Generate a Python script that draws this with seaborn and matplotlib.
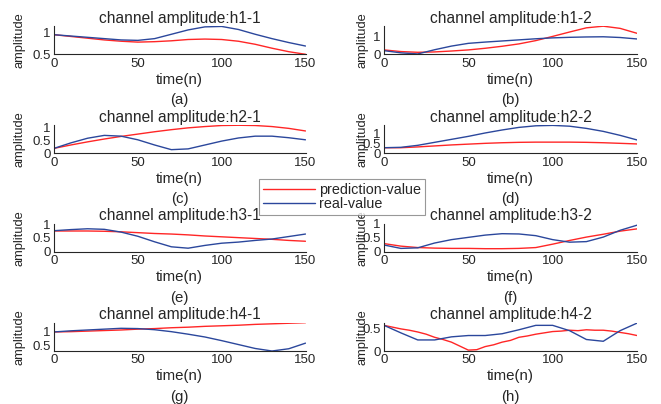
import matplotlib
matplotlib.use("Agg")
import matplotlib.pyplot as plt
from matplotlib.ticker import FuncFormatter
import numpy as np
import pandas as pd
import seaborn as sns

# ---------------- data ----------------
n10 = [0, 10, 20, 30, 40, 50, 60, 70, 80, 90, 100, 110, 120, 130, 140, 150]
n5 = list(range(0, 155, 5))

h11_pred = [0.95, 0.91, 0.87, 0.83, 0.80, 0.78, 0.79, 0.81, 0.84, 0.85, 0.84, 0.80, 0.73, 0.64, 0.56, 0.50]
h11_real = [0.95, 0.92, 0.89, 0.86, 0.83, 0.82, 0.86, 0.96, 1.06, 1.13, 1.14, 1.07, 0.96, 0.86, 0.77, 0.69]

h12_pred = [0.24, 0.15, 0.11, 0.13, 0.18, 0.24, 0.33, 0.44, 0.57, 0.75, 0.98, 1.22, 1.45, 1.54, 1.42, 1.15]
h12_real = [0.20, 0.08, 0.02, 0.25, 0.45, 0.60, 0.67, 0.73, 0.79, 0.85, 0.90, 0.93, 0.95, 0.96, 0.92, 0.84]

h21_pred = [0.19, 0.32, 0.44, 0.55, 0.65, 0.74, 0.83, 0.91, 0.98, 1.03, 1.07, 1.08, 1.07, 1.03, 0.96, 0.86]
h21_real = [0.19, 0.40, 0.58, 0.69, 0.66, 0.52, 0.32, 0.14, 0.17, 0.32, 0.47, 0.59, 0.66, 0.66, 0.60, 0.52]

h22_pred = [0.28, 0.28, 0.32, 0.37, 0.42, 0.46, 0.50, 0.53, 0.55, 0.56, 0.56, 0.56, 0.55, 0.53, 0.50, 0.47]
h22_real = [0.28, 0.30, 0.40, 0.55, 0.70, 0.85, 1.02, 1.17, 1.30, 1.38, 1.40, 1.36, 1.25, 1.10, 0.90, 0.67]

h31_pred = [0.75, 0.75, 0.75, 0.74, 0.72, 0.69, 0.66, 0.64, 0.61, 0.57, 0.54, 0.51, 0.48, 0.45, 0.41, 0.38]
h31_real = [0.76, 0.80, 0.83, 0.81, 0.71, 0.56, 0.36, 0.18, 0.13, 0.23, 0.31, 0.35, 0.41, 0.46, 0.55, 0.64]

h32_pred = [0.29, 0.20, 0.15, 0.13, 0.12, 0.12, 0.11, 0.11, 0.12, 0.15, 0.27, 0.40, 0.52, 0.62, 0.73, 0.81]
h32_real = [0.24, 0.12, 0.14, 0.31, 0.43, 0.51, 0.59, 0.64, 0.63, 0.57, 0.43, 0.34, 0.36, 0.52, 0.76, 0.94]

h41_pred = [1.00, 1.01, 1.03, 1.05, 1.07, 1.10, 1.12, 1.15, 1.17, 1.20, 1.22, 1.24, 1.27, 1.29, 1.31, 1.33]
h41_real = [1.00, 1.04, 1.07, 1.10, 1.13, 1.12, 1.08, 1.01, 0.92, 0.82, 0.69, 0.55, 0.41, 0.32, 0.40, 0.60]

h42_pred = [0.58, 0.54, 0.50, 0.47, 0.43, 0.38, 0.31, 0.26, 0.20, 0.11, 0.02, 0.03, 0.10, 0.14, 0.20, 0.24,
            0.31, 0.34, 0.38, 0.41, 0.44, 0.45, 0.47, 0.46, 0.48, 0.47, 0.47, 0.45, 0.42, 0.39, 0.35]
h42_real = [0.58, 0.41, 0.25, 0.25, 0.32, 0.35, 0.35, 0.39, 0.48, 0.58, 0.58, 0.46, 0.26, 0.22, 0.46, 0.63]

titles = ["channel amplitude:h1-1", "channel amplitude:h1-2",
          "channel amplitude:h2-1", "channel amplitude:h2-2",
          "channel amplitude:h3-1", "channel amplitude:h3-2",
          "channel amplitude:h4-1", "channel amplitude:h4-2"]
letters = ["(a)", "(b)", "(c)", "(d)", "(e)", "(f)", "(g)", "(h)"]
x_ticks = [0, 50, 100, 150]
series = [
    (n10, h11_pred, n10, h11_real, (0.5, 1.15), [0.5, 1]),
    (n10, h12_pred, n10, h12_real, (0.0, 1.55), [0, 1]),
    (n10, h21_pred, n10, h21_real, (0.0, 1.09), [0, 0.5, 1]),
    (n10, h22_pred, n10, h22_real, (0.0, 1.42), [0, 0.5, 1]),
    (n10, h31_pred, n10, h31_real, (0.0, 1.02), [0, 0.5, 1]),
    (n10, h32_pred, n10, h32_real, (0.0, 1.00), [0, 0.5, 1]),
    (n10, h41_pred, n10, h41_real, (0.32, 1.33), [0.5, 1]),
    (n5, h42_pred, n10, h42_real, (0.0, 0.64), [0, 0.5]),
]

# ---------------- style ----------------
sns.set_style("white")
plt.rcParams["font.family"] = ["Liberation Sans", "DejaVu Sans"]
TXT = "#262626"
RED = "#ff2626"
BLUE = "#2b479c"

W, H = 661, 404
fig = plt.figure(figsize=(W / 100, H / 100), dpi=100)

col_left = [54, 384]
col_width = [251.5, 253]
row_top = [26, 125, 223.5, 322.7]
ax_h = 28.3
ylab_x = [-0.113, -0.062]

for i, (xp, yp, xr, yr, ylim, yt) in enumerate(series):
    r, c = divmod(i, 2)
    ax = fig.add_axes([col_left[c] / W, 1 - (row_top[r] + ax_h) / H, col_width[c] / W, ax_h / H])
    sns.lineplot(x=xp, y=yp, ax=ax, color=RED, lw=1.0, label="prediction-value", legend=False)
    sns.lineplot(x=xr, y=yr, ax=ax, color=BLUE, lw=1.0, label="real-value", legend=False)
    ax.set_xlim(0, 150)
    ax.set_ylim(*ylim)
    ax.set_xticks(x_ticks)
    ax.set_yticks(yt)
    ax.yaxis.set_major_formatter(FuncFormatter(lambda v, p: "%g" % v))
    for s in ["top", "right"]:
        ax.spines[s].set_visible(False)
    for s in ["left", "bottom"]:
        ax.spines[s].set_color(TXT)
        ax.spines[s].set_linewidth(0.8)
    ax.tick_params(direction="in", length=2.5, width=0.6, color=TXT,
                   labelsize=9.5, labelcolor=TXT, pad=2.5)
    ax.set_title(titles[i], fontsize=11.2, color=TXT, pad=2.5)
    ax.set_xlabel("time(n)", fontsize=10.8, color=TXT, labelpad=2)
    ax.set_ylabel("amplitude", fontsize=9.3, color=TXT)
    ax.yaxis.set_label_coords(ylab_x[c], 0.5)
    ax.annotate(letters[i], xy=(0.5, 0), xycoords="axes fraction",
                xytext=(0, -33), textcoords="offset points",
                ha="center", va="center", fontsize=10.8, color=TXT)
    if i == 0:
        handles, labels = ax.get_legend_handles_labels()

leg = fig.legend(handles, labels, loc="upper left",
                 bbox_to_anchor=(259 / W, 1 - 179 / H), bbox_transform=fig.transFigure,
                 fontsize=10.4, frameon=True, fancybox=False, handlelength=3.6,
                 handletextpad=0.3, borderpad=0.25, labelspacing=0.05, borderaxespad=0)
leg.get_frame().set_edgecolor("#7f7f7f")
leg.get_frame().set_linewidth(0.8)
for t in leg.get_texts():
    t.set_color(TXT)

fig.savefig("out.png", dpi=100)
